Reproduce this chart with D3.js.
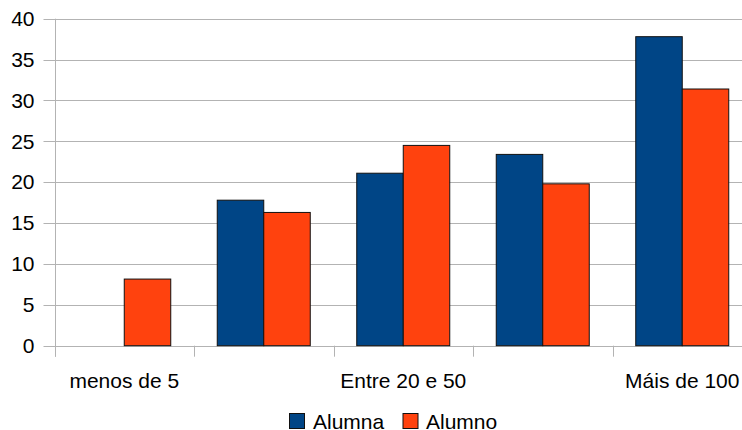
<!DOCTYPE html>
<html>
<head>
<meta charset="utf-8">
<script src="https://cdn.jsdelivr.net/npm/d3@7"></script>
<style>
  html, body { margin: 0; padding: 0; background: #fff; }
  svg { display: block; }
  text { font-family: "Liberation Sans", Arial, sans-serif; fill: #000; }
</style>
</head>
<body>
<svg id="chart" width="742" height="430"></svg>
<script>
const categories = ["menos de 5", "Entre 5 e 20", "Entre 20 e 50", "Entre 50 e 100", "Máis de 100"];
const shownLabels = [true, false, true, false, true];
const seriesNames = ["Alumna", "Alumno"];
const alumna = [0, 17.8, 21.1, 23.4, 37.8];
const alumno = [8.15, 16.3, 24.5, 19.8, 31.4];
const yTicks = [0, 5, 10, 15, 20, 25, 30, 35, 40];
const colors = ["#004586", "#ff420e"];

(function () {
const svg = d3.select("#chart");
const mLeft = 54.5, mRight = 752, mTop = 18.7, mBottom = 345.7;
const fontSize = 20, sx = 1.05;

const x = d3.scaleBand().domain(categories).range([mLeft, mRight]).paddingInner(0).paddingOuter(0);
const bw = x.bandwidth();
const xs = d3.scaleBand().domain(seriesNames).range([bw / 6, bw * 5 / 6]).padding(0);
const y = d3.scaleLinear().domain([0, 40]).range([mBottom, mTop]);

// gridlines
svg.append("g").selectAll("line").data(yTicks).join("line")
  .attr("x1", mLeft - 11).attr("x2", 742)
  .attr("y1", d => Math.round(y(d)) + 0.5).attr("y2", d => Math.round(y(d)) + 0.5)
  .attr("stroke", "#b3b3b3").attr("stroke-width", 1);

// y axis line
svg.append("line")
  .attr("x1", Math.round(mLeft) + 0.5).attr("x2", Math.round(mLeft) + 0.5)
  .attr("y1", mTop).attr("y2", mBottom + 11)
  .attr("stroke", "#b3b3b3");

// x tick marks at band boundaries
const bounds = categories.map(c => x(c));
svg.append("g").selectAll("line").data(bounds).join("line")
  .attr("x1", d => Math.round(d) + 0.5).attr("x2", d => Math.round(d) + 0.5)
  .attr("y1", mBottom).attr("y2", mBottom + 11)
  .attr("stroke", "#b3b3b3");

// y labels
svg.append("g").selectAll("text").data(yTicks).join("text")
  .attr("transform", d => `translate(34.5,${y(d)}) scale(${sx},1)`)
  .attr("dy", "0.36em")
  .attr("text-anchor", "end")
  .style("font-size", fontSize + "px")
  .text(d => d);

// x labels
svg.append("g").selectAll("text").data(categories.filter((c, i) => shownLabels[i])).join("text")
  .attr("transform", d => `translate(${x(d) + bw / 2},387.7) scale(${sx},1)`)
  .attr("text-anchor", "middle")
  .style("font-size", fontSize + "px")
  .text(d => d);

// bars
const data = categories.map((c, i) => ({ c, vals: [alumna[i], alumno[i]] }));
const groups = svg.append("g").selectAll("g").data(data).join("g")
  .attr("transform", d => `translate(${x(d.c)},0)`);
groups.selectAll("rect")
  .data(d => d.vals.map((v, j) => ({ v, s: seriesNames[j], j })).filter(e => e.v > 0))
  .join("rect")
  .attr("x", d => xs(d.s))
  .attr("width", xs.bandwidth())
  .attr("y", d => y(d.v))
  .attr("height", d => y(0) - y(d.v))
  .attr("fill", d => colors[d.j])
  .attr("stroke", "#111")
  .attr("stroke-width", 1);

// legend
const legend = svg.append("g");
const legendItems = [
  { name: seriesNames[0], sq: 289.5, tx: 313 },
  { name: seriesNames[1], sq: 403, tx: 426 }
];
legendItems.forEach((it, i) => {
  legend.append("rect").attr("x", it.sq).attr("y", 413.5).attr("width", 15).attr("height", 15)
    .attr("fill", colors[i]).attr("stroke", "#111");
  legend.append("text")
    .attr("transform", `translate(${it.tx},428.5) scale(${sx},1)`)
    .style("font-size", fontSize + "px")
    .text(it.name);
});
})();
</script>
</body>
</html>
